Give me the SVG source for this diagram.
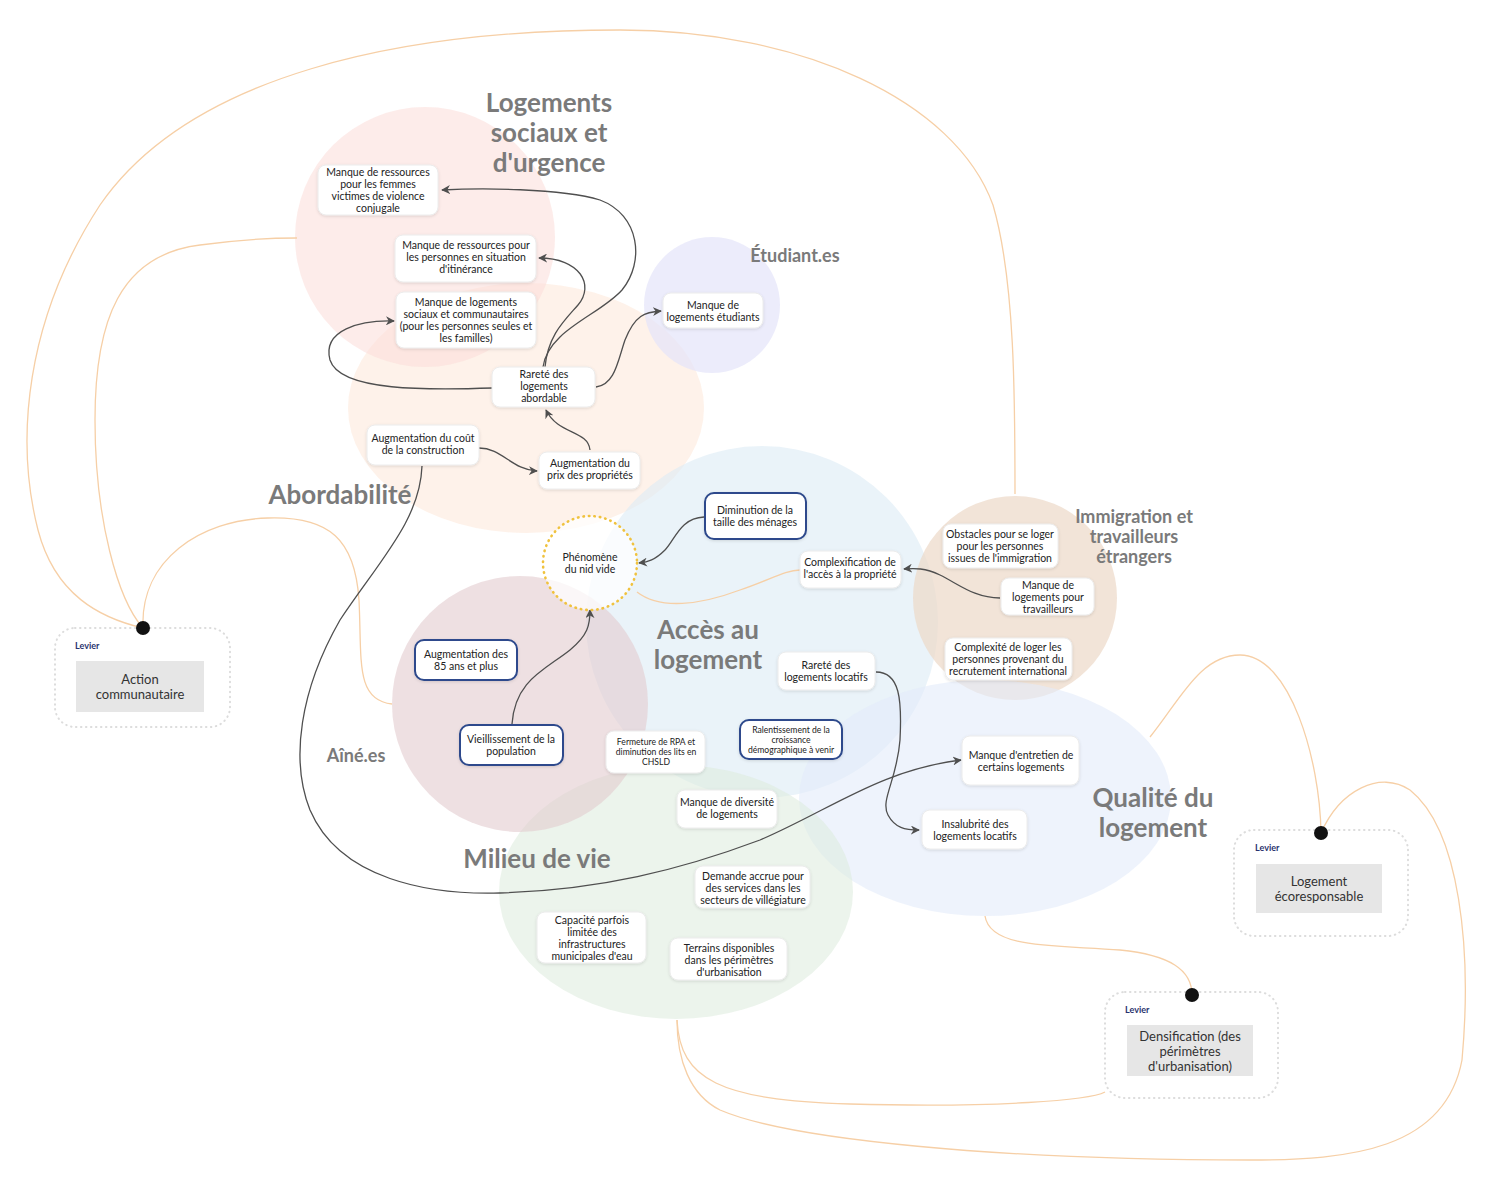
<svg xmlns="http://www.w3.org/2000/svg" width="1500" height="1178" viewBox="0 0 1500 1178">
<style>
.bg{fill:#ffffff}
.zone{stroke:none}
.cat{font-family:Lato,"Noto Sans",sans-serif;font-weight:700;fill:#7a7a7a;text-anchor:middle}
.big{font-size:26px}
.small{font-size:18px}
.node rect{fill:#ffffff;stroke:#ececec;stroke-width:1}
.node.key rect{stroke:#2d4a8c;stroke-width:2}
.node text{font-family:Lato,"Noto Sans",sans-serif;font-size:10.5px;fill:#222;text-anchor:middle}
.node text.tiny{font-size:8.6px}
.edge{fill:none;stroke:#4f4f4f;stroke-width:1.3;marker-end:url(#arr)}
.lever-line{fill:none;stroke:#f6cfa6;stroke-width:1.3}
.lever .frame{fill:#ffffff;stroke:#dcdcdc;stroke-width:2;stroke-dasharray:0.5 4.5;stroke-linecap:round}
.lever .inner{fill:#e6e6e6}
.lever .lab{font-family:Lato,"Noto Sans",sans-serif;font-size:9px;font-weight:700;fill:#2a336e}
.lever .txt{font-family:Lato,"Noto Sans",sans-serif;font-size:13px;fill:#333;text-anchor:middle}
.dot{fill:#111}
</style>
<defs>
<marker id="arr" viewBox="0 0 10 10" refX="9" refY="5" markerWidth="9" markerHeight="9" markerUnits="userSpaceOnUse" orient="auto">
<path d="M0,0 L10,5 L0,10 L3,5 z" fill="#4f4f4f"/>
</marker>
<filter id="sh" x="-20%" y="-20%" width="140%" height="150%">
<feDropShadow dx="0" dy="1" stdDeviation="1.5" flood-color="#000" flood-opacity="0.12"/>
</filter>
</defs>
<rect class="bg" x="0" y="0" width="1500" height="1178"/>

<g id="zones">
<ellipse class="zone" cx="526" cy="408" rx="178" ry="125" fill="#fde9dc" fill-opacity="0.6"/>
<circle class="zone" cx="425" cy="237" r="130" fill="#fbdcd9" fill-opacity="0.55"/>
<circle class="zone" cx="712" cy="305" r="68" fill="#e4e4fa" fill-opacity="0.7"/>
<circle class="zone" cx="762" cy="622" r="176" fill="#dcebf5" fill-opacity="0.6"/>
<circle class="zone" cx="1015" cy="598" r="102" fill="#ecd8c8" fill-opacity="0.7"/>
<ellipse class="zone" cx="985" cy="798" rx="186" ry="118" fill="#e2ebfa" fill-opacity="0.6"/>
<ellipse class="zone" cx="676" cy="892" rx="177" ry="127" fill="#dcebdc" fill-opacity="0.55"/>
<circle class="zone" cx="520" cy="704" r="128" fill="#e3cbcf" fill-opacity="0.6"/>
</g>

<g id="labels">
<text class="cat big" x="549" y="112">Logements</text>
<text class="cat big" x="549" y="142">sociaux et</text>
<text class="cat big" x="549" y="172">d'urgence</text>
<text class="cat small" x="795" y="262">Étudiant.es</text>
<text class="cat big" x="340" y="504">Abordabilité</text>
<text class="cat small" x="1134" y="523">Immigration et</text>
<text class="cat small" x="1134" y="543">travailleurs</text>
<text class="cat small" x="1134" y="563">étrangers</text>
<text class="cat big" x="708" y="639">Accès au</text>
<text class="cat big" x="708" y="669">logement</text>
<text class="cat small" x="356" y="762">Aîné.es</text>
<text class="cat big" x="1153" y="807">Qualité du</text>
<text class="cat big" x="1153" y="837">logement</text>
<text class="cat big" x="537" y="868">Milieu de vie</text>
</g>

<g id="connectors">
<path class="lever-line" d="M143,628 C100,618 55,595 38,530 C15,440 25,320 100,205 C190,75 400,30 620,30 C800,30 955,100 993,205 C1015,280 1015,400 1015,494"/>
<path class="lever-line" d="M143,628 C118,600 95,520 95,420 C95,320 120,255 200,245 C250,238 280,238 297,238"/>
<path class="lever-line" d="M143,628 C140,560 200,520 268,518 C330,516 355,540 359,600 C362,660 355,700 392,704"/>
<path class="lever-line" d="M1321,833 C1320,760 1290,655 1240,655 C1200,655 1180,700 1150,737"/>
<path class="lever-line" d="M1321,833 C1340,790 1380,770 1410,790 C1460,830 1472,950 1462,1060 C1445,1150 1350,1160 1250,1160 C1000,1160 790,1140 720,1110 C690,1095 677,1060 677,1020"/>
<path class="lever-line" d="M985,916 C990,950 1060,945 1120,950 C1170,955 1192,970 1192,995"/>
<path class="lever-line" d="M677,1020 C680,1080 720,1100 850,1104 C1000,1108 1090,1100 1105,1092"/>
<path class="lever-line" d="M637,592 C660,610 700,605 740,590 C770,580 785,570 800,570"/>

<path class="edge" d="M543,367 C548,330 600,315 622,290 C645,262 640,215 600,200 C560,188 480,188 442,190"/>
<path class="edge" d="M545,367 C548,335 565,320 578,305 C595,285 580,258 539,258"/>
<path class="edge" d="M493,388 C430,390 340,392 330,360 C322,330 360,320 394,321"/>
<path class="edge" d="M596,387 C615,385 618,360 625,340 C635,315 645,312 661,311"/>
<path class="edge" d="M590,450 C588,430 558,435 546,410"/>
<path class="edge" d="M479,448 C502,448 512,470 537,471"/>
<path class="edge" d="M704,517 C680,518 675,540 665,550 C655,560 648,562 639,563"/>
<path class="edge" d="M512,724 C515,680 545,670 570,650 C588,635 590,625 590,610"/>
<path class="edge" d="M1000,598 C975,598 960,585 940,575 C925,568 915,568 904,569"/>
<path class="edge" d="M876,672 C900,672 902,700 900,740 C897,780 880,800 888,815 C895,828 905,830 919,830"/>
<path class="edge" d="M422,466 C420,520 380,560 340,620 C300,690 290,760 310,810 C340,880 430,895 500,893 C600,890 680,870 760,840 C830,810 880,770 961,760"/>
</g>

<g id="n1" class="node"><rect x="318" y="165" width="120" height="50" rx="8" filter="url(#sh)"/>
<text x="378" y="176">Manque de ressources</text><text x="378" y="188">pour les femmes</text><text x="378" y="200">victimes de violence</text><text x="378" y="212">conjugale</text></g>

<g id="n2" class="node"><rect x="395" y="235" width="141" height="47" rx="8" filter="url(#sh)"/>
<text x="466" y="249">Manque de ressources pour</text><text x="466" y="261">les personnes en situation</text><text x="466" y="273">d'itinérance</text></g>

<g id="n3" class="node"><rect x="396" y="292" width="140" height="56" rx="8" filter="url(#sh)"/>
<text x="466" y="306">Manque de logements</text><text x="466" y="318">sociaux et communautaires</text><text x="466" y="330">(pour les personnes seules et</text><text x="466" y="342">les familles)</text></g>

<g id="n4" class="node"><rect x="492" y="367" width="103" height="40" rx="8" filter="url(#sh)"/>
<text x="544" y="378">Rareté des</text><text x="544" y="390">logements</text><text x="544" y="402">abordable</text></g>

<g id="n5" class="node"><rect x="367" y="425" width="112" height="40" rx="8" filter="url(#sh)"/>
<text x="423" y="442">Augmentation du coût</text><text x="423" y="454">de la construction</text></g>

<g id="n6" class="node"><rect x="539" y="452" width="101" height="37" rx="8" filter="url(#sh)"/>
<text x="590" y="467">Augmentation du</text><text x="590" y="479">prix des propriétés</text></g>

<g id="n7" class="node"><rect x="663" y="293" width="100" height="35" rx="8" filter="url(#sh)"/>
<text x="713" y="309">Manque de</text><text x="713" y="321">logements étudiants</text></g>

<g id="n8" class="node key"><rect x="705" y="493" width="101" height="46" rx="9" filter="url(#sh)"/>
<text x="755" y="514">Diminution de la</text><text x="755" y="526">taille des ménages</text></g>

<g id="n9" class="node"><circle cx="590" cy="563" r="47" fill="#ffffff" fill-opacity="0.75" stroke="#f0c23e" stroke-width="2.6" stroke-dasharray="0.5 5" stroke-linecap="round"/>
<text x="590" y="561">Phénomène</text><text x="590" y="573">du nid vide</text></g>

<g id="n10" class="node"><rect x="800" y="551" width="101" height="37" rx="8" filter="url(#sh)"/>
<text x="850" y="566">Complexification de</text><text x="850" y="578">l'accès à la propriété</text></g>

<g id="n11" class="node"><rect x="943" y="524" width="115" height="44" rx="8" filter="url(#sh)"/>
<text x="1000" y="538">Obstacles pour se loger</text><text x="1000" y="550">pour les personnes</text><text x="1000" y="562">issues de l'immigration</text></g>

<g id="n12" class="node"><rect x="1001" y="578" width="93" height="37" rx="8" filter="url(#sh)"/>
<text x="1048" y="589">Manque de</text><text x="1048" y="601">logements pour</text><text x="1048" y="613">travailleurs</text></g>

<g id="n13" class="node"><rect x="945" y="638" width="127" height="42" rx="8" filter="url(#sh)"/>
<text x="1008" y="651">Complexité de loger les</text><text x="1008" y="663">personnes provenant du</text><text x="1008" y="675">recrutement international</text></g>

<g id="n14" class="node key"><rect x="415" y="640" width="102" height="40" rx="9" filter="url(#sh)"/>
<text x="466" y="658">Augmentation des</text><text x="466" y="670">85 ans et plus</text></g>

<g id="n15" class="node key"><rect x="460" y="725" width="103" height="40" rx="9" filter="url(#sh)"/>
<text x="511" y="743">Vieillissement de la</text><text x="511" y="755">population</text></g>

<g id="n16" class="node"><rect x="606" y="731" width="99" height="42" rx="8" filter="url(#sh)"/>
<text class="tiny" x="656" y="745">Fermeture de RPA  et</text><text class="tiny" x="656" y="755">diminution des lits en</text><text class="tiny" x="656" y="765">CHSLD</text></g>

<g id="n17" class="node key"><rect x="740" y="720" width="102" height="39" rx="9" filter="url(#sh)"/>
<text class="tiny" x="791" y="733">Ralentissement de la</text><text class="tiny" x="791" y="743">croissance</text><text class="tiny" x="791" y="753">démographique à venir</text></g>

<g id="n18" class="node"><rect x="778" y="652" width="97" height="38" rx="8" filter="url(#sh)"/>
<text x="826" y="669">Rareté des</text><text x="826" y="681">logements locatifs</text></g>

<g id="n19" class="node"><rect x="677" y="790" width="100" height="38" rx="8" filter="url(#sh)"/>
<text x="727" y="806">Manque de diversité</text><text x="727" y="818">de logements</text></g>

<g id="n20" class="node"><rect x="962" y="736" width="117" height="49" rx="8" filter="url(#sh)"/>
<text x="1021" y="759">Manque d'entretien de</text><text x="1021" y="771">certains logements</text></g>

<g id="n21" class="node"><rect x="922" y="810" width="105" height="39" rx="8" filter="url(#sh)"/>
<text x="975" y="828">Insalubrité des</text><text x="975" y="840">logements locatifs</text></g>

<g id="n22" class="node"><rect x="695" y="866" width="115" height="42" rx="8" filter="url(#sh)"/>
<text x="753" y="880">Demande accrue pour</text><text x="753" y="892">des services dans les</text><text x="753" y="904">secteurs de villégiature</text></g>

<g id="n23" class="node"><rect x="537" y="912" width="109" height="51" rx="8" filter="url(#sh)"/>
<text x="592" y="924">Capacité parfois</text><text x="592" y="936">limitée des</text><text x="592" y="948">infrastructures</text><text x="592" y="960">municipales d'eau</text></g>

<g id="n24" class="node"><rect x="670" y="938" width="117" height="42" rx="8" filter="url(#sh)"/>
<text x="729" y="952">Terrains disponibles</text><text x="729" y="964">dans les périmètres</text><text x="729" y="976">d'urbanisation</text></g>

<g id="lever1" class="lever"><rect class="frame" x="55" y="628" width="175" height="99" rx="20"/>
<text class="lab" x="75" y="649">Levier</text>
<rect class="inner" x="76" y="661" width="128" height="51"/>
<text class="txt" x="140" y="684">Action</text><text class="txt" x="140" y="699">communautaire</text>
<circle class="dot" cx="143" cy="628" r="7"/></g>

<g id="lever2" class="lever"><rect class="frame" x="1234" y="830" width="174" height="106" rx="20"/>
<text class="lab" x="1255" y="851">Levier</text>
<rect class="inner" x="1256" y="864" width="126" height="49"/>
<text class="txt" x="1319" y="886">Logement</text><text class="txt" x="1319" y="901">écoresponsable</text>
<circle class="dot" cx="1321" cy="833" r="7"/></g>

<g id="lever3" class="lever"><rect class="frame" x="1105" y="992" width="173" height="106" rx="20"/>
<text class="lab" x="1125" y="1013">Levier</text>
<rect class="inner" x="1127" y="1025" width="126" height="51"/>
<text class="txt" x="1190" y="1041">Densification (des</text><text class="txt" x="1190" y="1056">périmètres</text><text class="txt" x="1190" y="1071">d'urbanisation)</text>
<circle class="dot" cx="1192" cy="995" r="7"/></g>
</svg>
